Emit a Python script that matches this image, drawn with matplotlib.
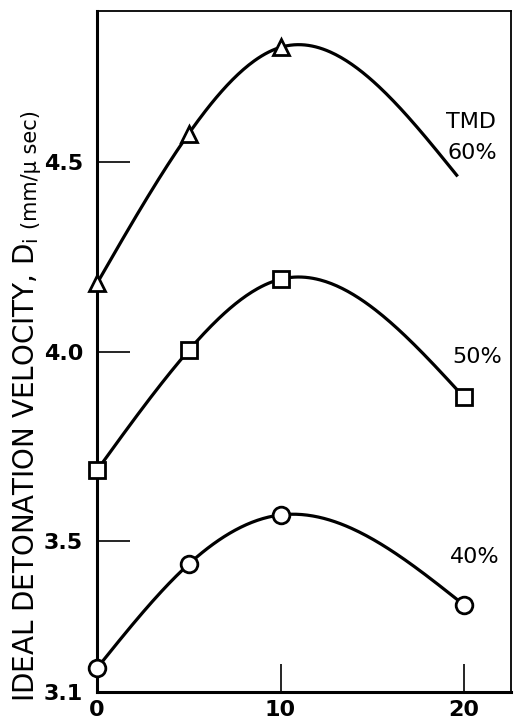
import numpy as np
import matplotlib
matplotlib.use("Agg")
import matplotlib.pyplot as plt

# values
x_pts = [0, 5, 10, 20]
tmd60 = [4.18, 4.576, 4.804, 4.466]   # last point: where the drawn curve stops
tmd50 = [3.686, 4.003, 4.191, 3.879]
tmd40 = [3.163, 3.438, 3.568, 3.330]
x_end60 = 19.6

yticks = [3.1, 3.5, 4.0, 4.5]
ytick_labels = ["3.1", "3.5", "4.0", "4.5"]
xticks = [0, 10, 20]
xtick_labels = ["0", "10", "20"]

fig = plt.figure(figsize=(5.16, 7.28), dpi=100)
ax = fig.add_axes([97/516, 1 - 692/728, (511 - 97)/516, (692 - 11)/728])


def spline(xs, ys, n=200):
    # natural cubic spline through the points, like a french-curve line
    xs = np.asarray(xs, float)
    ys = np.asarray(ys, float)
    h = np.diff(xs)
    s = np.diff(ys) / h
    k = len(xs)
    A = np.zeros((k, k))
    r = np.zeros(k)
    A[0, 0] = A[-1, -1] = 1
    for i in range(1, k - 1):
        A[i, i - 1] = h[i - 1]
        A[i, i] = 2 * (h[i - 1] + h[i])
        A[i, i + 1] = h[i]
        r[i] = 6 * (s[i] - s[i - 1])
    M = np.linalg.solve(A, r)
    xx = np.linspace(xs[0], xs[-1], n)
    j = np.clip(np.searchsorted(xs, xx) - 1, 0, k - 2)
    t = xx - xs[j]
    hj = h[j]
    b = s[j] - hj * (2 * M[j] + M[j + 1]) / 6
    yy = ys[j] + b * t + M[j] / 2 * t**2 + (M[j + 1] - M[j]) / (6 * hj) * t**3
    return xx, yy


lw = 2.3
xx, yy = spline(x_pts[:3] + [x_end60], tmd60)
ax.plot(xx, yy, color="black", lw=lw, zorder=2)
ax.plot(x_pts[:3], tmd60[:3], ls="none", marker="^", ms=12, mfc="white",
        mec="black", mew=2, zorder=3, clip_on=False)

xx, yy = spline(x_pts, tmd50)
ax.plot(xx, yy, color="black", lw=lw, zorder=2)
ax.plot(x_pts, tmd50, ls="none", marker="s", ms=11, mfc="white",
        mec="black", mew=2, zorder=3, clip_on=False)

xx, yy = spline(x_pts, tmd40)
ax.plot(xx, yy, color="black", lw=lw, zorder=2)
ax.plot(x_pts, tmd40, ls="none", marker="o", ms=12, mfc="white",
        mec="black", mew=2, zorder=3, clip_on=False)

ax.set_xlim(0, 22.56)
ax.set_ylim(3.1, 4.9)

ax.set_yticks(yticks)
ax.set_yticklabels(ytick_labels, fontsize=16, fontweight="bold")
ax.set_xticks(xticks)
ax.set_xticklabels(xtick_labels, fontsize=16, fontweight="bold")
ax.tick_params(axis="y", direction="in", length=24, width=1.2, pad=10)
ax.tick_params(axis="x", direction="in", length=20, width=1.2, pad=6)

for s in ["left", "bottom"]:
    ax.spines[s].set_linewidth(2.2)
for s in ["top", "right"]:
    ax.spines[s].set_linewidth(1.3)

# curve labels
ax.text(20.38, 4.606, "TMD", fontsize=16, ha="center", va="center")
ax.text(20.44, 4.524, "60%", fontsize=16, ha="center", va="center")
ax.text(20.71, 3.985, "50%", fontsize=16, ha="center", va="center")
ax.text(20.6, 3.457, "40%", fontsize=16, ha="center", va="center")

# y axis title, main part plus smaller units
main = fig.text(26/516, 1 - 702/728, r"IDEAL DETONATION VELOCITY, D$_\mathregular{i}$",
                rotation=90, rotation_mode="anchor", ha="left", va="center",
                fontsize=20)
fig.canvas.draw()
bb = main.get_window_extent()
fig.text(31/516, (bb.y1 + 8)/fig.bbox.height, "(mm/\u03bc sec)",
         rotation=90, rotation_mode="anchor", ha="left", va="center",
         fontsize=15)

fig.savefig("out.png", dpi=100)
